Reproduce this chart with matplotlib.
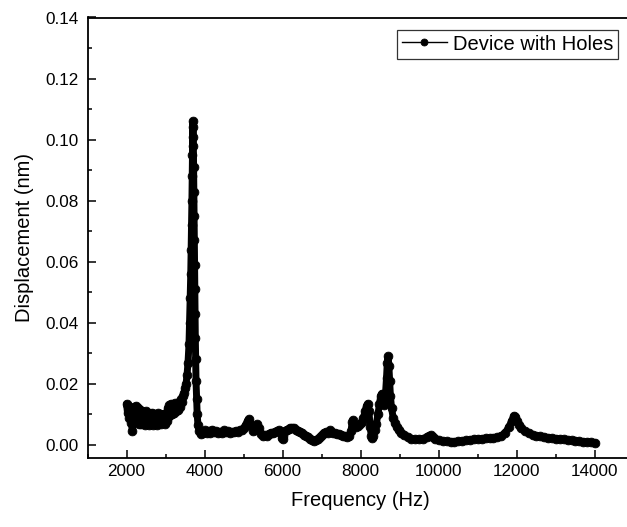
import matplotlib
matplotlib.use("Agg")
import matplotlib.pyplot as plt
from matplotlib.ticker import MultipleLocator, FormatStrFormatter

plt.rcParams['font.family'] = ['Liberation Sans', 'DejaVu Sans']

# ---- data (Hz, nm) ----
freq_noise = [2000, 2025, 2050, 2075, 2100, 2125, 2150, 2175, 2200, 2225, 2250, 2275,
              2300, 2325, 2350, 2375, 2400, 2425, 2450, 2475, 2500, 2525, 2550, 2575,
              2600, 2625, 2650, 2675, 2700, 2725, 2750, 2775, 2800, 2825, 2850, 2875,
              2900, 2925, 2950, 2975, 3000, 3025, 3050, 3075, 3100, 3125, 3150, 3175,
              3200, 3225, 3250, 3275, 3300, 3325, 3350, 3375, 3400, 3425, 3450, 3475]
disp_noise = [0.0135, 0.0105, 0.0128, 0.0090, 0.0118, 0.0072, 0.0045, 0.0080, 0.0125, 0.0085, 0.0128, 0.0075,
              0.0122, 0.0070, 0.0115, 0.0068, 0.0112, 0.0075, 0.0108, 0.0065, 0.0110, 0.0072, 0.0104, 0.0066,
              0.0100, 0.0070, 0.0106, 0.0064, 0.0102, 0.0070, 0.0098, 0.0066, 0.0104, 0.0072, 0.0100, 0.0068,
              0.0098, 0.0074, 0.0102, 0.0070, 0.0098, 0.0080, 0.0120, 0.0092, 0.0130, 0.0098, 0.0135, 0.0102,
              0.0132, 0.0105, 0.0136, 0.0110, 0.0132, 0.0115, 0.0140, 0.0125, 0.0150, 0.0140, 0.0160, 0.0170]

freq_peak = [3500, 3525, 3550, 3575, 3600, 3615, 3630, 3645, 3655, 3665, 3675, 3682, 3688, 3694,
             3700, 3706, 3712, 3718, 3724, 3730, 3736, 3742, 3748, 3755, 3762, 3770, 3780, 3795,
             3810, 3830, 3860, 3900]
disp_peak = [0.0185, 0.0200, 0.0230, 0.0270, 0.0330, 0.0400, 0.0480, 0.0560, 0.0640, 0.0720, 0.0800, 0.0880, 0.0950, 0.1010,
             0.1060, 0.1040, 0.0980, 0.0910, 0.0830, 0.0750, 0.0670, 0.0590, 0.0510, 0.0430, 0.0350, 0.0280, 0.0210, 0.0150,
             0.0100, 0.0065, 0.0045, 0.0035]

freq_mid = [3950, 4000, 4050, 4100, 4150, 4200, 4250, 4300, 4350, 4400, 4450, 4500, 4550, 4600,
            4650, 4700, 4750, 4800, 4850, 4900, 4950, 5000, 5050, 5100, 5150, 5200, 5250, 5300,
            5350, 5400, 5450, 5500, 5550, 5600, 5650, 5700, 5750, 5800, 5850, 5900, 5950, 5980,
            6000, 6020, 6050, 6100, 6150, 6200, 6250, 6300, 6350, 6400, 6450, 6500, 6550, 6600,
            6650, 6700, 6750, 6800, 6850, 6900, 6950, 7000, 7050, 7100, 7150, 7200, 7250, 7300,
            7350, 7400, 7450, 7500, 7550, 7600, 7650, 7700, 7750, 7780, 7800, 7830, 7870, 7920,
            7970, 8020, 8070, 8110, 8150, 8180, 8210, 8240, 8270, 8290, 8320, 8360, 8400, 8440,
            8480, 8510, 8540, 8570, 8600, 8630, 8660, 8680, 8700, 8720, 8740, 8760, 8790, 8830,
            8870, 8920, 8970, 9020]
disp_mid = [0.0040, 0.0048, 0.0038, 0.0045, 0.0040, 0.0050, 0.0042, 0.0046, 0.0038, 0.0044, 0.0040, 0.0048, 0.0042, 0.0045,
            0.0040, 0.0044, 0.0041, 0.0046, 0.0043, 0.0048, 0.0050, 0.0055, 0.0065, 0.0080, 0.0085, 0.0065, 0.0045, 0.0050,
            0.0068, 0.0055, 0.0035, 0.0030, 0.0032, 0.0030, 0.0036, 0.0040, 0.0038, 0.0042, 0.0045, 0.0048, 0.0042, 0.0022,
            0.0018, 0.0030, 0.0045, 0.0050, 0.0052, 0.0055, 0.0057, 0.0055, 0.0050, 0.0046, 0.0042, 0.0038, 0.0034, 0.0030,
            0.0025, 0.0020, 0.0016, 0.0014, 0.0015, 0.0020, 0.0025, 0.0032, 0.0040, 0.0042, 0.0038, 0.0048, 0.0044, 0.0040,
            0.0038, 0.0036, 0.0035, 0.0033, 0.0030, 0.0028, 0.0025, 0.0030, 0.0045, 0.0075, 0.0082, 0.0068, 0.0060, 0.0062,
            0.0068, 0.0075, 0.0090, 0.0110, 0.0128, 0.0135, 0.0110, 0.0060, 0.0030, 0.0022, 0.0030, 0.0048, 0.0070, 0.0100,
            0.0135, 0.0160, 0.0168, 0.0150, 0.0130, 0.0160, 0.0220, 0.0270, 0.0290, 0.0260, 0.0210, 0.0160, 0.0120, 0.0090,
            0.0072, 0.0058, 0.0048, 0.0040]

freq_tail = [9100, 9200, 9300, 9400, 9500, 9600, 9700, 9760, 9800, 9850, 9900, 10000, 10100, 10200,
             10300, 10400, 10500, 10600, 10700, 10800, 10900, 11000, 11100, 11200, 11300, 11400, 11500, 11600,
             11700, 11800, 11870, 11920, 11960, 12000, 12050, 12100, 12200, 12300, 12400, 12500, 12600, 12700,
             12800, 12900, 13000, 13100, 13200, 13300, 13400, 13500, 13600, 13700, 13800, 13900, 14000]
disp_tail = [0.0032, 0.0025, 0.0020, 0.0019, 0.0019, 0.0021, 0.0026, 0.0030, 0.0032, 0.0026, 0.0020, 0.0016, 0.0013, 0.0012,
             0.0011, 0.0011, 0.0012, 0.0013, 0.0015, 0.0017, 0.0019, 0.0020, 0.0021, 0.0022, 0.0022, 0.0023, 0.0025, 0.0030,
             0.0040, 0.0060, 0.0080, 0.0095, 0.0092, 0.0080, 0.0065, 0.0055, 0.0045, 0.0038, 0.0033, 0.0030, 0.0028, 0.0026,
             0.0024, 0.0022, 0.0021, 0.0020, 0.0018, 0.0016, 0.0015, 0.0014, 0.0012, 0.0011, 0.0010, 0.0009, 0.0008]

freq = freq_noise + freq_peak + freq_mid + freq_tail
disp = disp_noise + disp_peak + disp_mid + disp_tail

series_label = "Device with Holes"
x_label = "Frequency (Hz)"
y_label = "Displacement (nm)"

# ---- figure ----
fig = plt.figure(figsize=(6.27, 5.27), dpi=100)
W, H = 627, 527
left_px, right_px, top_px, bottom_px = 87.5, 634.0, 17.5, 457.5
ax = fig.add_axes([left_px / W, 1 - bottom_px / H, (right_px - left_px) / W, (bottom_px - top_px) / H])

# thick underlying trace (dense measurement band)
ax.plot(freq, disp, color='black', lw=5.0, solid_joinstyle='round',
        solid_capstyle='round', zorder=2)
# markers on the data points
ax.plot(freq, disp, color='black', lw=1.0, marker='o', markersize=6.3,
        markeredgewidth=0.6, markerfacecolor='black', markeredgecolor='black',
        label=series_label, zorder=3)

ax.set_xlim(1000, 15000)
ax.set_ylim(-0.0041, 0.14)
ax.xaxis.set_major_locator(MultipleLocator(2000))
ax.xaxis.set_minor_locator(MultipleLocator(1000))
ax.yaxis.set_major_locator(MultipleLocator(0.02))
ax.yaxis.set_minor_locator(MultipleLocator(0.01))
ax.yaxis.set_major_formatter(FormatStrFormatter('%.2f'))
ax.set_xticks([2000, 4000, 6000, 8000, 10000, 12000, 14000])

for s in ax.spines.values():
    s.set_linewidth(1.3)
ax.spines['right'].set_visible(False)

ax.tick_params(which='both', direction='in', top=False, right=False, width=1.1,
               labelsize=12.3, colors='black')
ax.tick_params(axis='x', which='major', length=6, pad=5)
ax.tick_params(axis='x', which='minor', length=3)
ax.tick_params(axis='y', which='major', length=6, pad=6.5)
ax.tick_params(axis='y', which='minor', length=3)

ax.set_xlabel(x_label, fontsize=14.5, labelpad=8)
ax.set_ylabel(y_label, fontsize=14.5, labelpad=8)

leg = ax.legend(loc='upper right', bbox_to_anchor=((618 - left_px) / (right_px - left_px), (bottom_px - 29.5) / (bottom_px - top_px)),
                fontsize=14.5, frameon=True, fancybox=False, edgecolor='black',
                handlelength=2.2, handletextpad=0.3, borderpad=0.25, borderaxespad=0.0,
                markerscale=1.0)
leg.get_frame().set_linewidth(0.9)
for h in leg.legend_handles:
    h.set_markersize(5.0)

fig.savefig("out.png", dpi=100)
